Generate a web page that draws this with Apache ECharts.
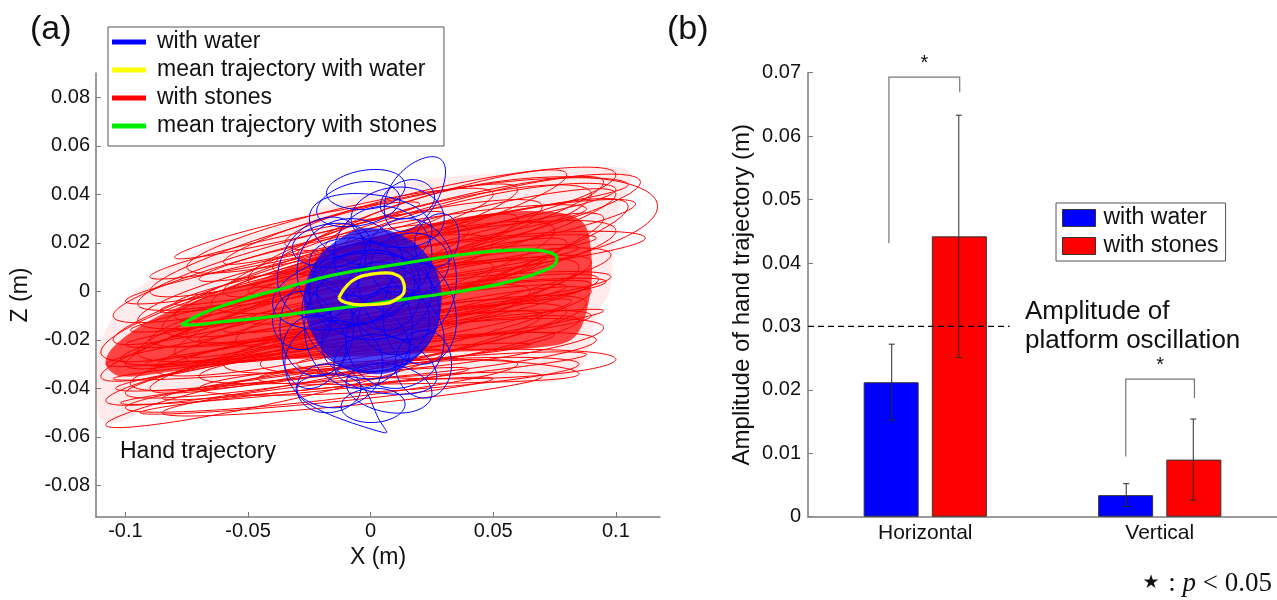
<!DOCTYPE html>
<html>
<head>
<meta charset="utf-8">
<script src="https://cdn.jsdelivr.net/npm/echarts@6/dist/echarts.min.js"></script>
<style>
html, body { margin: 0; padding: 0; background: #fff; }
#chart { width: 1277px; height: 600px; }
</style>
</head>
<body>
<div id="chart"></div>
<script>
// ---- panel (a): hand trajectory, [x, z] in metres ----
// each loop is left end, top, right end, bottom
const stonesLoops = [
    [[-0.100, -0.030], [-0.010, 0.005], [0.080, 0.020], [-0.010, -0.015]],
    [[-0.090, -0.040], [0.000, -0.011], [0.090, 0.000], [0.000, -0.029]],
    [[-0.105, -0.020], [-0.022, 0.015], [0.060, 0.030], [-0.022, -0.005]],
    [[-0.080, -0.010], [0.010, 0.026], [0.100, 0.040], [0.010, 0.004]],
    [[-0.108, -0.045], [-0.019, -0.019], [0.070, -0.010], [-0.019, -0.036]],
    [[-0.060, 0.000], [0.018, 0.033], [0.095, 0.045], [0.018, 0.012]],
    [[-0.095, -0.025], [-0.005, 0.005], [0.085, 0.010], [-0.005, -0.020]],
    [[-0.070, -0.035], [0.011, -0.020], [0.092, -0.020], [0.011, -0.035]],
    [[-0.110, -0.035], [-0.030, -0.002], [0.050, 0.010], [-0.030, -0.022]],
    [[-0.040, 0.010], [0.035, 0.039], [0.110, 0.045], [0.035, 0.017]],
    [[-0.085, -0.015], [-0.005, 0.018], [0.075, 0.025], [-0.005, -0.008]],
    [[-0.100, -0.048], [-0.020, -0.033], [0.060, -0.030], [-0.020, -0.045]],
    [[-0.075, 0.010], [-0.013, 0.034], [0.050, 0.040], [-0.013, 0.016]],
    [[-0.090, -0.020], [0.004, 0.008], [0.098, 0.015], [0.004, -0.013]],
    [[-0.060, -0.030], [0.014, -0.008], [0.088, -0.005], [0.014, -0.028]],
    [[-0.105, -0.010], [-0.033, 0.018], [0.040, 0.025], [-0.033, -0.003]],
    [[-0.020, 0.015], [0.050, 0.045], [0.117, 0.035], [0.050, 0.008]],
    [[-0.098, -0.038], [-0.009, -0.013], [0.080, -0.008], [-0.009, -0.033]],
    [[-0.080, -0.025], [0.008, 0.014], [0.095, 0.030], [0.008, -0.009]],
    [[-0.108, -0.055], [-0.039, -0.034], [0.030, -0.025], [-0.039, -0.046]],
    [[-0.050, 0.005], [0.020, 0.035], [0.090, 0.040], [0.020, 0.011]],
    [[-0.095, -0.005], [-0.013, 0.026], [0.070, 0.035], [-0.013, 0.004]],
    [[-0.070, -0.040], [0.008, -0.029], [0.085, -0.030], [0.008, -0.041]],
    [[-0.102, -0.028], [-0.005, -0.003], [0.093, 0.005], [-0.005, -0.021]],
    [[-0.030, 0.015], [0.025, 0.040], [0.080, 0.048], [0.025, 0.023]],
    [[-0.088, -0.032], [-0.012, -0.006], [0.065, 0.000], [-0.012, -0.026]],
    [[-0.065, -0.005], [0.018, 0.022], [0.100, 0.025], [0.018, -0.002]],
    [[-0.110, -0.025], [-0.045, 0.005], [0.020, 0.010], [-0.045, -0.020]],
    [[-0.045, -0.030], [0.025, -0.014], [0.095, -0.015], [0.025, -0.031]],
    [[-0.090, 0.000], [-0.015, 0.031], [0.060, 0.042], [-0.015, 0.011]],
    [[-0.100, -0.042], [-0.008, -0.019], [0.085, -0.012], [-0.008, -0.035]],
    [[-0.075, -0.018], [0.015, 0.022], [0.105, 0.035], [0.015, -0.005]],
    [[-0.095, -0.012], [-0.023, 0.015], [0.050, 0.020], [-0.023, -0.007]],
    [[-0.055, -0.020], [0.018, 0.006], [0.090, 0.012], [0.018, -0.014]],
    [[-0.085, -0.050], [-0.008, -0.037], [0.070, -0.035], [-0.008, -0.047]],
    [[-0.035, 0.020], [0.033, 0.044], [0.100, 0.048], [0.033, 0.024]],
    [[-0.100, -0.022], [-0.010, -0.006], [0.080, 0.002], [-0.010, -0.016]],
    [[-0.092, -0.030], [0.000, -0.016], [0.095, -0.008], [0.000, -0.024]],
    [[-0.104, -0.040], [-0.015, -0.024], [0.075, -0.018], [-0.015, -0.034]],
    [[-0.080, -0.005], [0.005, 0.016], [0.092, 0.022], [0.005, 0.006]],
    [[-0.070, 0.005], [0.010, 0.028], [0.088, 0.034], [0.010, 0.016]],
    [[-0.060, 0.012], [0.020, 0.040], [0.105, 0.044], [0.020, 0.026]],
    [[-0.098, -0.016], [-0.010, 0.004], [0.070, 0.012], [-0.010, -0.006]],
    [[-0.085, -0.044], [0.000, -0.030], [0.088, -0.026], [0.000, -0.038]],
    [[-0.108, -0.030], [-0.020, -0.012], [0.062, -0.004], [-0.020, -0.022]],
    [[-0.050, -0.012], [0.025, 0.004], [0.098, 0.006], [0.025, -0.008]],
    [[-0.040, -0.022], [0.030, -0.010], [0.090, -0.010], [0.030, -0.020]],
    [[-0.075, -0.028], [0.005, -0.012], [0.082, -0.004], [0.005, -0.022]],
    [[-0.090, 0.006], [-0.030, 0.024], [0.030, 0.032], [-0.030, 0.014]],
    [[-0.080, 0.014], [-0.030, 0.030], [0.020, 0.036], [-0.030, 0.022]],
    [[-0.100, -0.004], [-0.045, 0.012], [0.010, 0.020], [-0.045, 0.002]],
    [[-0.030, 0.008], [0.040, 0.030], [0.108, 0.036], [0.040, 0.016]],
    [[-0.010, 0.020], [0.050, 0.040], [0.100, 0.042], [0.050, 0.028]],
    [[-0.094, -0.050], [-0.020, -0.040], [0.050, -0.036], [-0.020, -0.046]],
    [[-0.105, -0.036], [-0.020, -0.026], [0.065, -0.022], [-0.020, -0.032]],
    [[-0.060, -0.016], [0.020, 0.000], [0.096, 0.004], [0.020, -0.010]],
    [[-0.086, -0.008], [0.000, 0.012], [0.085, 0.018], [0.000, 0.002]],
    [[-0.070, -0.020], [0.010, -0.002], [0.090, 0.003], [0.010, -0.014]],
    [[-0.046, -0.036], [0.020, -0.028], [0.085, -0.034], [0.020, -0.038]],
    [[-0.102, -0.046], [-0.030, -0.036], [0.040, -0.032], [-0.030, -0.042]],
    [[-0.030, -0.030], [0.040, -0.024], [0.100, -0.028], [0.040, -0.036]],
    [[-0.050, 0.000], [0.030, 0.020], [0.112, 0.022], [0.030, 0.006]]
];

// each loop is left, top, right, bottom
const waterLoops = [
    [[-0.025, 0.000], [0.000, 0.020], [0.025, 0.000], [0.000, -0.020]],
    [[-0.027, -0.015], [-0.005, 0.010], [0.017, -0.015], [-0.005, -0.040]],
    [[-0.015, 0.015], [0.005, 0.035], [0.025, 0.015], [0.005, -0.005]],
    [[-0.040, -0.005], [-0.010, 0.015], [0.020, 0.005], [-0.010, -0.015]],
    [[-0.010, -0.020], [0.010, 0.000], [0.030, -0.020], [0.010, -0.040]],
    [[0.006, 0.038], [0.022, 0.055], [0.030, 0.045], [0.015, 0.025]],
    [[-0.035, -0.030], [-0.015, -0.012], [0.005, -0.030], [-0.015, -0.048]],
    [[-0.030, -0.042], [-0.010, -0.035], [0.003, -0.052], [0.001, -0.057]],
    [[-0.025, 0.030], [0.000, 0.040], [0.025, 0.025], [0.000, 0.010]],
    [[-0.005, 0.005], [0.015, 0.030], [0.035, 0.005], [0.015, -0.020]],
    [[-0.038, 0.005], [-0.020, 0.030], [-0.002, 0.015], [-0.020, -0.010]],
    [[-0.015, -0.030], [0.005, -0.018], [0.027, -0.035], [0.005, -0.042]],
    [[-0.022, 0.033], [-0.005, 0.045], [0.012, 0.038], [-0.005, 0.027]],
    [[0.005, -0.010], [0.020, 0.012], [0.035, -0.012], [0.020, -0.030]],
    [[-0.030, 0.008], [-0.008, 0.030], [0.014, 0.008], [-0.008, -0.014]],
    [[-0.028, -0.008], [0.000, 0.017], [0.028, -0.008], [0.000, -0.033]],
    [[-0.008, 0.030], [0.012, 0.043], [0.030, 0.030], [0.012, 0.018]],
    [[-0.037, -0.015], [-0.022, 0.005], [-0.007, -0.015], [-0.022, -0.035]],
    [[-0.010, -0.038], [0.008, -0.030], [0.025, -0.042], [0.008, -0.050]],
    [[-0.022, 0.000], [-0.002, 0.017], [0.018, 0.004], [-0.002, -0.013]],
    [[-0.032, 0.018], [-0.015, 0.028], [0.000, 0.020], [-0.016, 0.010]],
    [[-0.020, -0.022], [-0.002, -0.006], [0.016, -0.024], [-0.002, -0.036]],
    [[0.000, 0.010], [0.016, 0.024], [0.032, 0.012], [0.016, -0.002]],
    [[-0.036, -0.025], [-0.024, -0.010], [-0.010, -0.022], [-0.024, -0.040]],
    [[0.010, -0.030], [0.022, -0.016], [0.033, -0.030], [0.022, -0.044]],
    [[-0.018, 0.040], [-0.002, 0.050], [0.014, 0.044], [0.000, 0.034]],
    [[-0.012, -0.048], [0.000, -0.040], [0.014, -0.046], [0.002, -0.054]],
    [[-0.025, 0.012], [-0.006, 0.022], [0.010, 0.010], [-0.006, -0.002]],
    [[-0.005, -0.012], [0.010, 0.002], [0.024, -0.012], [0.010, -0.026]],
    [[-0.040, -0.012], [-0.028, 0.000], [-0.016, -0.012], [-0.028, -0.024]],
    [[0.018, 0.020], [0.028, 0.032], [0.036, 0.022], [0.027, 0.010]],
    [[-0.010, 0.000], [0.005, 0.012], [0.020, -0.002], [0.005, -0.016]],
    [[-0.030, -0.040], [-0.018, -0.030], [-0.004, -0.040], [-0.018, -0.050]],
    [[0.004, 0.036], [0.016, 0.046], [0.026, 0.038], [0.014, 0.030]]
];

// outline of the whole cloud and of its densest part
const stonesHull = [
    [-0.0988, -0.0023], [-0.0691, 0.0171], [-0.0419, 0.0254], [-0.0150, 0.0365],
    [0.0053, 0.0419], [0.0207, 0.0460], [0.0549, 0.0489], [0.0874, 0.0509],
    [0.1061, 0.0489], [0.1000, 0.0300], [0.0976, 0.0006], [0.0927, -0.0089],
    [0.0858, -0.0311], [0.0720, -0.0377], [0.0276, -0.0365], [-0.0480, -0.0377],
    [-0.0821, -0.0447], [-0.1085, -0.0542], [-0.1114, -0.0324], [-0.1098, -0.0200]
];
const stonesCore = [
    [-0.1050, -0.0230], [-0.0900, -0.0120], [-0.0691, -0.0030], [-0.0447, 0.0050],
    [-0.0163, 0.0170], [0.0122, 0.0250], [0.0407, 0.0310], [0.0691, 0.0330],
    [0.0860, 0.0290], [0.0900, 0.0150], [0.0890, -0.0040], [0.0830, -0.0190],
    [0.0691, -0.0230], [0.0325, -0.0250], [-0.0081, -0.0270], [-0.0488, -0.0290],
    [-0.0813, -0.0330], [-0.1020, -0.0350], [-0.1080, -0.0300]
];
const waterHull = [
    [-0.0400, -0.0200], [-0.0350, 0.0100], [-0.0250, 0.0300], [-0.0050, 0.0450],
    [0.0200, 0.0500], [0.0300, 0.0400], [0.0350, 0.0100], [0.0360, -0.0150],
    [0.0300, -0.0350], [0.0150, -0.0450], [0.0000, -0.0500], [-0.0200, -0.0450],
    [-0.0350, -0.0350]
];
const waterCore = [
    [-0.0150, 0.0200], [-0.0030, 0.0260], [0.0130, 0.0230], [0.0250, 0.0120],
    [0.0290, -0.0035], [0.0240, -0.0210], [0.0120, -0.0320], [-0.0010, -0.0340],
    [-0.0150, -0.0290], [-0.0250, -0.0150], [-0.0270, 0.0000], [-0.0220, 0.0130]
];

const meanStones = [
    [-0.0772, -0.0138], [-0.0691, -0.0093], [-0.0528, -0.0035], [-0.0366, 0.0010],
    [-0.0150, 0.0068], [0.0122, 0.0113], [0.0366, 0.0151], [0.0516, 0.0167],
    [0.0650, 0.0171], [0.0720, 0.0163], [0.0760, 0.0138], [0.0744, 0.0105],
    [0.0691, 0.0080], [0.0634, 0.0060], [0.0528, 0.0031], [0.0378, 0.0002],
    [0.0203, -0.0023], [0.0037, -0.0047], [-0.0122, -0.0068], [-0.0285, -0.0089],
    [-0.0447, -0.0109], [-0.0610, -0.0126], [-0.0732, -0.0138], [-0.0772, -0.0138]
];
const meanWater = [
    [-0.0130, -0.0027], [-0.0094, 0.0027], [-0.0053, 0.0056], [-0.0012, 0.0068],
    [0.0069, 0.0076], [0.0114, 0.0064], [0.0130, 0.0047], [0.0138, 0.0014],
    [0.0114, -0.0027], [0.0041, -0.0052], [-0.0041, -0.0056], [-0.0110, -0.0043],
    [-0.0130, -0.0027]
];

// ---- panel (b): amplitude bars ----
const categories = ['Horizontal', 'Vertical'];
const waterMean = [0.0212, 0.0034];
const waterErr = [0.0060, 0.0018];
const stonesMean = [0.0442, 0.0090];
const stonesErr = [0.0191, 0.0064];
const platformAmp = 0.03;
const refLineX = [0.5, 1.36];           // on the hidden 0.5..2.5 axis
const bracketX = [[0.845, 1.147], [1.855, 2.148]];
const bracketTop = [0.0693, 0.0217];
const bracketEnds = [[0.0431, 0.0669], [0.0095, 0.0187]];

const FONT = '"Liberation Sans", Arial, sans-serif';
const AXIS_GRAY = '#7a7a7a';
const BAR_SHIFT = 0.143;   // half distance between the two bars of a group
const KAPPA = 0.5523;      // bezier handle for a quarter ellipse

// one data row per loop: x0, z0, x1, z1, x2, z2, x3, z3
function loopRows(loops) {
    return loops.map(function (loop) {
        return [loop[0][0], loop[0][1], loop[1][0], loop[1][1], loop[2][0], loop[2][1], loop[3][0], loop[3][1]];
    });
}

// closed curve through the four points of a loop (an ellipse when they are symmetric)
function loopItem(color, width) {
    return function (params, api) {
        const p = [];
        for (let i = 0; i < 4; i++) p.push(api.coord([api.value(2 * i), api.value(2 * i + 1)]));
        const tan = p.map(function (pt, i) {
            const a = p[(i + 3) % 4], b = p[(i + 1) % 4];
            return [(b[0] - a[0]) / 2 * KAPPA, (b[1] - a[1]) / 2 * KAPPA];
        });
        const children = [];
        for (let i = 0; i < 4; i++) {
            const j = (i + 1) % 4;
            children.push({
                type: 'bezierCurve',
                shape: {
                    x1: p[i][0], y1: p[i][1], x2: p[j][0], y2: p[j][1],
                    cpx1: p[i][0] + tan[i][0], cpy1: p[i][1] + tan[i][1],
                    cpx2: p[j][0] - tan[j][0], cpy2: p[j][1] - tan[j][1]
                },
                style: { stroke: color, lineWidth: width, fill: null }
            });
        }
        return { type: 'group', children: children };
    };
}

function cloudItem(hull, core, color, hullOpacity, coreOpacity) {
    return function (params, api) {
        const toPx = function (p) { return api.coord(p); };
        return {
            type: 'group',
            children: [
                { type: 'polygon', shape: { points: hull.map(toPx), smooth: 0.35 }, style: { fill: color, opacity: hullOpacity } },
                { type: 'polygon', shape: { points: core.map(toPx), smooth: 0.35 }, style: { fill: color, opacity: coreOpacity } }
            ]
        };
    };
}

const errData = [];
categories.forEach(function (c, i) {
    errData.push([i + 1 - BAR_SHIFT, waterMean[i], waterErr[i]]);
    errData.push([i + 1 + BAR_SHIFT, stonesMean[i], stonesErr[i]]);
});
const bracketData = bracketX.map(function (bx, i) {
    return [bx[0], bx[1], bracketTop[i], bracketEnds[i][0], bracketEnds[i][1]];
});

const chart = echarts.init(document.getElementById('chart'));

chart.setOption({
    animation: false,
    backgroundColor: '#fff',
    textStyle: { fontFamily: FONT },
    grid: [
        { left: 96, top: 73, right: 617, bottom: 83 },
        { left: 808, top: 72.7, right: -9, bottom: 83.3 }
    ],
    legend: [
        {
            orient: 'vertical', left: 108, top: 27,
            selectedMode: false,
            icon: 'rect', itemWidth: 34, itemHeight: 5, itemGap: 4,
            padding: [3, 7, 8, 4],
            borderColor: '#555', borderWidth: 1, backgroundColor: '#fff',
            textStyle: { fontSize: 23, lineHeight: 24, color: '#111', padding: [0, 0, 0, 6] },
            data: [
                { name: 'with water', itemStyle: { color: '#0000ff', borderWidth: 0 } },
                { name: 'mean trajectory with water', itemStyle: { color: '#ffff00', borderWidth: 0 } },
                { name: 'with stones', itemStyle: { color: '#ff0000', borderWidth: 0 } },
                { name: 'mean trajectory with stones', itemStyle: { color: '#00ee00', borderWidth: 0 } }
            ]
        },
        {
            orient: 'vertical', left: 1056, top: 203,
            selectedMode: false,
            icon: 'rect', itemWidth: 33, itemHeight: 17, itemGap: 4,
            padding: [3, 7, 3, 6],
            borderColor: '#555', borderWidth: 1, backgroundColor: '#fff',
            textStyle: { fontSize: 23, lineHeight: 24, color: '#111', padding: [0, 0, 0, 3] },
            data: [
                { name: 'with water', itemStyle: { color: '#0000ff', borderColor: '#333', borderWidth: 1 } },
                { name: 'with stones', itemStyle: { color: '#ff0000', borderColor: '#333', borderWidth: 1 } }
            ]
        }
    ],
    xAxis: [
        {
            type: 'value', gridIndex: 0,
            min: -0.112, max: 0.118, splitNumber: 5, minInterval: 0.05, maxInterval: 0.05,
            name: 'X (m)', nameLocation: 'middle', nameGap: 27,
            nameTextStyle: { fontSize: 23, color: '#111' },
            axisLine: { onZero: false, lineStyle: { color: AXIS_GRAY, width: 1.5 } },
            axisTick: { inside: true, length: 5, lineStyle: { color: AXIS_GRAY } },
            axisLabel: { fontSize: 20, color: '#111', margin: 4, showMinLabel: false, showMaxLabel: false },
            splitLine: { show: false }
        },
        {
            type: 'category', gridIndex: 1, data: categories,
            axisLine: { lineStyle: { color: AXIS_GRAY, width: 1.5 } },
            axisTick: { show: false },
            axisLabel: { fontSize: 21, color: '#111', margin: 6 },
            splitLine: { show: false }
        },
        {
            type: 'value', gridIndex: 1, min: 0.5, max: 2.5, show: false
        }
    ],
    yAxis: [
        {
            type: 'value', gridIndex: 0,
            min: -0.093, max: 0.09, splitNumber: 9, minInterval: 0.02, maxInterval: 0.02,
            name: 'Z (m)', nameLocation: 'middle', nameGap: 64,
            nameTextStyle: { fontSize: 23, color: '#111' },
            axisLine: { show: true, onZero: false, lineStyle: { color: AXIS_GRAY, width: 1.5 } },
            axisTick: { show: true, inside: true, length: 5, lineStyle: { color: AXIS_GRAY } },
            axisLabel: { fontSize: 20, color: '#111', margin: 6, showMinLabel: false, showMaxLabel: false },
            splitLine: { show: false }
        },
        {
            type: 'value', gridIndex: 1,
            min: 0, max: 0.07, interval: 0.01,
            name: 'Amplitude of hand trajectory (m)', nameLocation: 'middle', nameGap: 54,
            nameTextStyle: { fontSize: 24, color: '#111' },
            axisLine: { show: true, lineStyle: { color: AXIS_GRAY, width: 1.5 } },
            axisTick: { show: true, inside: true, length: 5, lineStyle: { color: AXIS_GRAY } },
            axisLabel: { fontSize: 20, color: '#111', margin: 7 },
            splitLine: { show: false }
        }
    ],
    series: [
        {
            name: 'with stones', type: 'custom', xAxisIndex: 0, yAxisIndex: 0, z: 1,
            data: [[0, 0]], clip: true, silent: true,
            renderItem: cloudItem(stonesHull, stonesCore, '#ff0000', 0.08, 0.72)
        },
        {
            name: 'with stones', type: 'custom', xAxisIndex: 0, yAxisIndex: 0, z: 2,
            data: loopRows(stonesLoops), encode: { x: [0, 2, 4, 6], y: [1, 3, 5, 7] },
            clip: true, silent: true,
            renderItem: loopItem('#ff0000', 1)
        },
        {
            name: 'with water', type: 'custom', xAxisIndex: 0, yAxisIndex: 0, z: 3,
            data: [[0, 0]], clip: true, silent: true,
            renderItem: cloudItem(waterHull, waterCore, '#0000ff', 0.0, 0.72)
        },
        {
            name: 'with water', type: 'custom', xAxisIndex: 0, yAxisIndex: 0, z: 4,
            data: loopRows(waterLoops), encode: { x: [0, 2, 4, 6], y: [1, 3, 5, 7] },
            clip: true, silent: true,
            renderItem: loopItem('#0000ff', 1)
        },
        {
            name: 'mean trajectory with stones', type: 'line', xAxisIndex: 0, yAxisIndex: 0, z: 5,
            data: meanStones, smooth: 0.4, symbol: 'none',
            lineStyle: { color: '#00ee00', width: 3.2 }, itemStyle: { color: '#00ee00' }
        },
        {
            name: 'mean trajectory with water', type: 'line', xAxisIndex: 0, yAxisIndex: 0, z: 6,
            data: meanWater, smooth: 0.5, symbol: 'none',
            lineStyle: { color: '#ffff00', width: 3.2 }, itemStyle: { color: '#ffff00' }
        },
        {
            name: 'with water', type: 'bar', xAxisIndex: 1, yAxisIndex: 1,
            data: waterMean, barWidth: 55, barGap: '24%',
            itemStyle: { color: '#0000ff', borderColor: '#333', borderWidth: 1 }
        },
        {
            name: 'with stones', type: 'bar', xAxisIndex: 1, yAxisIndex: 1,
            data: stonesMean, barWidth: 55, barGap: '24%',
            itemStyle: { color: '#ff0000', borderColor: '#333', borderWidth: 1 }
        },
        {
            type: 'line', xAxisIndex: 2, yAxisIndex: 1, z: 8,
            data: refLineX.map(function (x) { return [x, platformAmp]; }),
            symbol: 'none', silent: true,
            lineStyle: { color: '#000', width: 1.3, type: [6, 4] }
        },
        {
            type: 'custom', xAxisIndex: 2, yAxisIndex: 1, z: 9, silent: true,
            data: errData, encode: { x: 0, y: 1 },
            renderItem: function (params, api) {
                const x = api.value(0), m = api.value(1), e = api.value(2);
                const top = api.coord([x, m + e]);
                const bot = api.coord([x, m - e]);
                const st = { stroke: '#2a2a2a', lineWidth: 1 };
                return {
                    type: 'group',
                    children: [
                        { type: 'line', shape: { x1: top[0], y1: top[1], x2: bot[0], y2: bot[1] }, style: st },
                        { type: 'line', shape: { x1: top[0] - 3, y1: top[1], x2: top[0] + 3, y2: top[1] }, style: st },
                        { type: 'line', shape: { x1: bot[0] - 3, y1: bot[1], x2: bot[0] + 3, y2: bot[1] }, style: st }
                    ]
                };
            }
        },
        {
            type: 'custom', xAxisIndex: 2, yAxisIndex: 1, z: 9, silent: true,
            data: bracketData, encode: { x: [0, 1], y: [2, 3, 4] },
            renderItem: function (params, api) {
                const a0 = api.coord([api.value(0), api.value(3)]);
                const a1 = api.coord([api.value(0), api.value(2)]);
                const b1 = api.coord([api.value(1), api.value(2)]);
                const b0 = api.coord([api.value(1), api.value(4)]);
                return {
                    type: 'group',
                    children: [
                        {
                            type: 'polyline',
                            shape: { points: [a0, a1, b1, b0] },
                            style: { stroke: '#777', lineWidth: 1.2, fill: null }
                        },
                        {
                            type: 'text',
                            style: {
                                text: '*', x: (a1[0] + b1[0]) / 2, y: a1[1] - 4,
                                fontSize: 20, fill: '#111', align: 'center', verticalAlign: 'bottom',
                                fontFamily: FONT
                            }
                        }
                    ]
                };
            }
        }
    ],
    graphic: [
        { type: 'text', left: 30, top: 13, style: { text: '(a)', fontSize: 34, fill: '#111', fontFamily: FONT } },
        { type: 'text', left: 667, top: 13, style: { text: '(b)', fontSize: 34, fill: '#111', fontFamily: FONT } },
        { type: 'text', left: 120, top: 440, style: { text: 'Hand trajectory', fontSize: 23, fill: '#111', fontFamily: FONT } },
        {
            type: 'text', left: 1025, top: 297, z: 10,
            style: {
                text: 'Amplitude of\nplatform oscillation', fontSize: 26, lineHeight: 29,
                fill: '#111', fontFamily: FONT
            }
        },
        {
            type: 'text', right: 5, top: 570,
            style: {
                text: '{s|★} : {p|p} < 0.05',
                fontSize: 27, fill: '#111', fontFamily: '"Liberation Serif", "DejaVu Serif", serif',
                rich: {
                    s: { fontSize: 19, fontFamily: '"DejaVu Sans", sans-serif', fill: '#111', padding: [0, 2, 0, 0] },
                    p: { fontSize: 27, fontStyle: 'italic', fontFamily: '"Liberation Serif", serif', fill: '#111' }
                }
            }
        }
    ]
});
</script>
</body>
</html>
